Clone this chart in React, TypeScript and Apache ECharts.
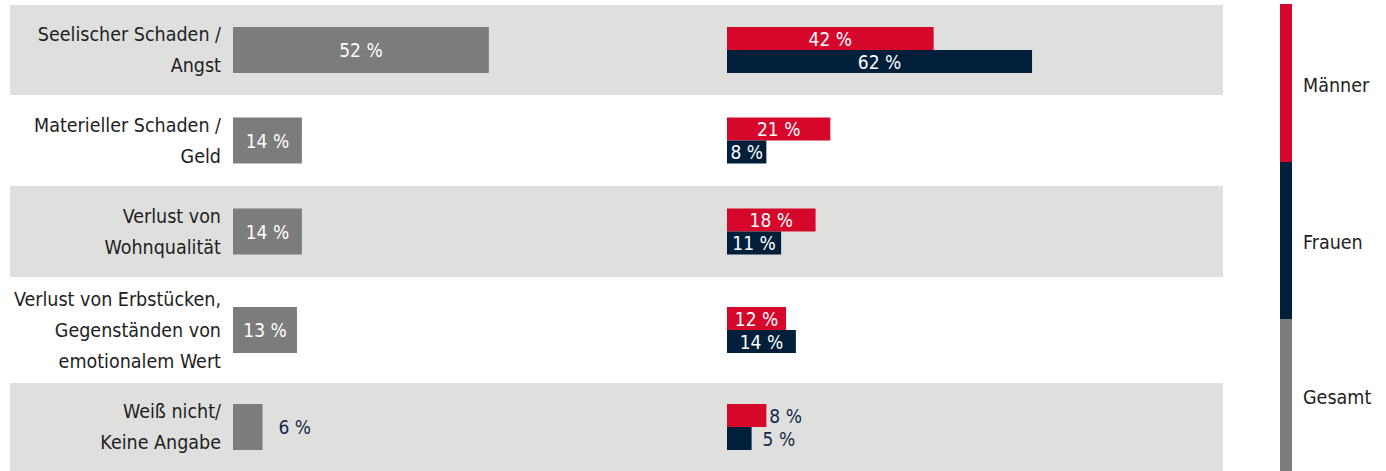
import React, { useEffect, useRef } from "react";
import * as echarts from "echarts";

const categories = [
  "Seelischer Schaden /\nAngst",
  "Materieller Schaden /\nGeld",
  "Verlust von\nWohnqualität",
  "Verlust von Erbstücken,\nGegenständen von\nemotionalem Wert",
  "Weiß nicht/\nKeine Angabe",
];
const gesamt = [52, 14, 14, 13, 6];
const maenner = [42, 21, 18, 12, 8];
const frauen = [62, 8, 11, 14, 5];
const legendNames = ["Männer", "Frauen", "Gesamt"];

const COLORS = { Männer: "#d5082b", Frauen: "#001f3b", Gesamt: "#7c7c7d" };
const BG = "#dfdfde";
const FONT = "'DejaVu Sans Condensed', 'Noto Sans', sans-serif";

// layout
const rowTops = [5, 95, 186, 277, 383];
const rowBottoms = [95, 186, 277, 383, 471];
const PX_PER_PCT = 4.92;
const LEFT_X = 233;
const RIGHT_X = 727;
const LEFT_MAX = 90;
const RIGHT_MAX = 100;

export default function App() {
  const ref = useRef<HTMLDivElement>(null);
  useEffect(() => {
    if (!ref.current) return;
    document.body.style.margin = "0";
    const chart = echarts.init(ref.current, undefined, { renderer: "svg" });
    const grids: any[] = [];
    const xAxes: any[] = [];
    const yAxes: any[] = [];
    const series: any[] = [];
    const graphics: any[] = [];

    const insideLabel = {
      show: true,
      position: "inside",
      color: "#ffffff",
      fontFamily: FONT,
      fontSize: 19,
      formatter: "{c} %",
    };
    const outsideLabel = (distance: number) => ({
      show: true,
      position: "right",
      distance,
      color: "#14284a",
      fontFamily: FONT,
      fontSize: 19,
      formatter: "{c} %",
    });

    categories.forEach((cat, i) => {
      const top = rowTops[i];
      const h = rowBottoms[i] - rowTops[i];
      if (i % 2 === 0) {
        graphics.push({
          type: "rect",
          silent: true,
          z: -10,
          shape: { x: 10, y: top, width: 1213, height: h },
          style: { fill: BG },
        });
      }
      grids.push({ left: LEFT_X, top, height: h, width: LEFT_MAX * PX_PER_PCT, containLabel: false });
      grids.push({ left: RIGHT_X, top, height: h, width: RIGHT_MAX * PX_PER_PCT, containLabel: false });
      xAxes.push({ type: "value", gridIndex: 2 * i, min: 0, max: LEFT_MAX, show: false });
      xAxes.push({ type: "value", gridIndex: 2 * i + 1, min: 0, max: RIGHT_MAX, show: false });
      yAxes.push({
        type: "category",
        gridIndex: 2 * i,
        data: [cat],
        inverse: true,
        axisLine: { show: false },
        axisTick: { show: false },
        splitLine: { show: false },
        axisLabel: {
          margin: 12,
          color: "#1e1e1e",
          fontFamily: FONT,
          fontSize: 19.5,
          lineHeight: 31,
          align: "right",
        },
      });
      yAxes.push({
        type: "category",
        gridIndex: 2 * i + 1,
        data: [cat],
        inverse: true,
        show: false,
      });
      const last = i === categories.length - 1;
      series.push({
        type: "bar",
        name: "Gesamt",
        xAxisIndex: 2 * i,
        yAxisIndex: 2 * i,
        barWidth: 46,
        itemStyle: { color: COLORS.Gesamt },
        label: last ? outsideLabel(16) : insideLabel,
        data: [gesamt[i]],
      });
      series.push({
        type: "bar",
        name: "Männer",
        xAxisIndex: 2 * i + 1,
        yAxisIndex: 2 * i + 1,
        barWidth: 23,
        barGap: "0%",
        itemStyle: { color: COLORS["Männer"] },
        label: last ? outsideLabel(3) : insideLabel,
        data: [maenner[i]],
      });
      series.push({
        type: "bar",
        name: "Frauen",
        xAxisIndex: 2 * i + 1,
        yAxisIndex: 2 * i + 1,
        barWidth: 23,
        barGap: "0%",
        itemStyle: { color: COLORS.Frauen },
        label: last ? outsideLabel(11) : insideLabel,
        data: [frauen[i]],
      });
    });

    // legend: vertical colour bar with labels
    const segs = [
      { y: 4, h: 158 },
      { y: 162, h: 157 },
      { y: 319, h: 152 },
    ];
    legendNames.forEach((name, k) => {
      graphics.push({
        type: "rect",
        silent: true,
        shape: { x: 1280, y: segs[k].y, width: 12, height: segs[k].h },
        style: { fill: (COLORS as any)[name] },
      });
      graphics.push({
        type: "text",
        silent: true,
        x: 1303,
        y: segs[k].y + segs[k].h / 2 + 2,
        style: {
          text: name,
          fill: "#1e1e1e",
          font: `19.5px ${FONT}`,
          verticalAlign: "middle",
          align: "left",
        },
      });
    });

    chart.setOption({
      animation: false,
      backgroundColor: "#ffffff",
      tooltip: { show: false },
      grid: grids,
      xAxis: xAxes,
      yAxis: yAxes,
      series,
      graphic: graphics,
    });
    return () => chart.dispose();
  }, []);
  return <div ref={ref} style={{ width: 1386, height: 471 }} />;
}
